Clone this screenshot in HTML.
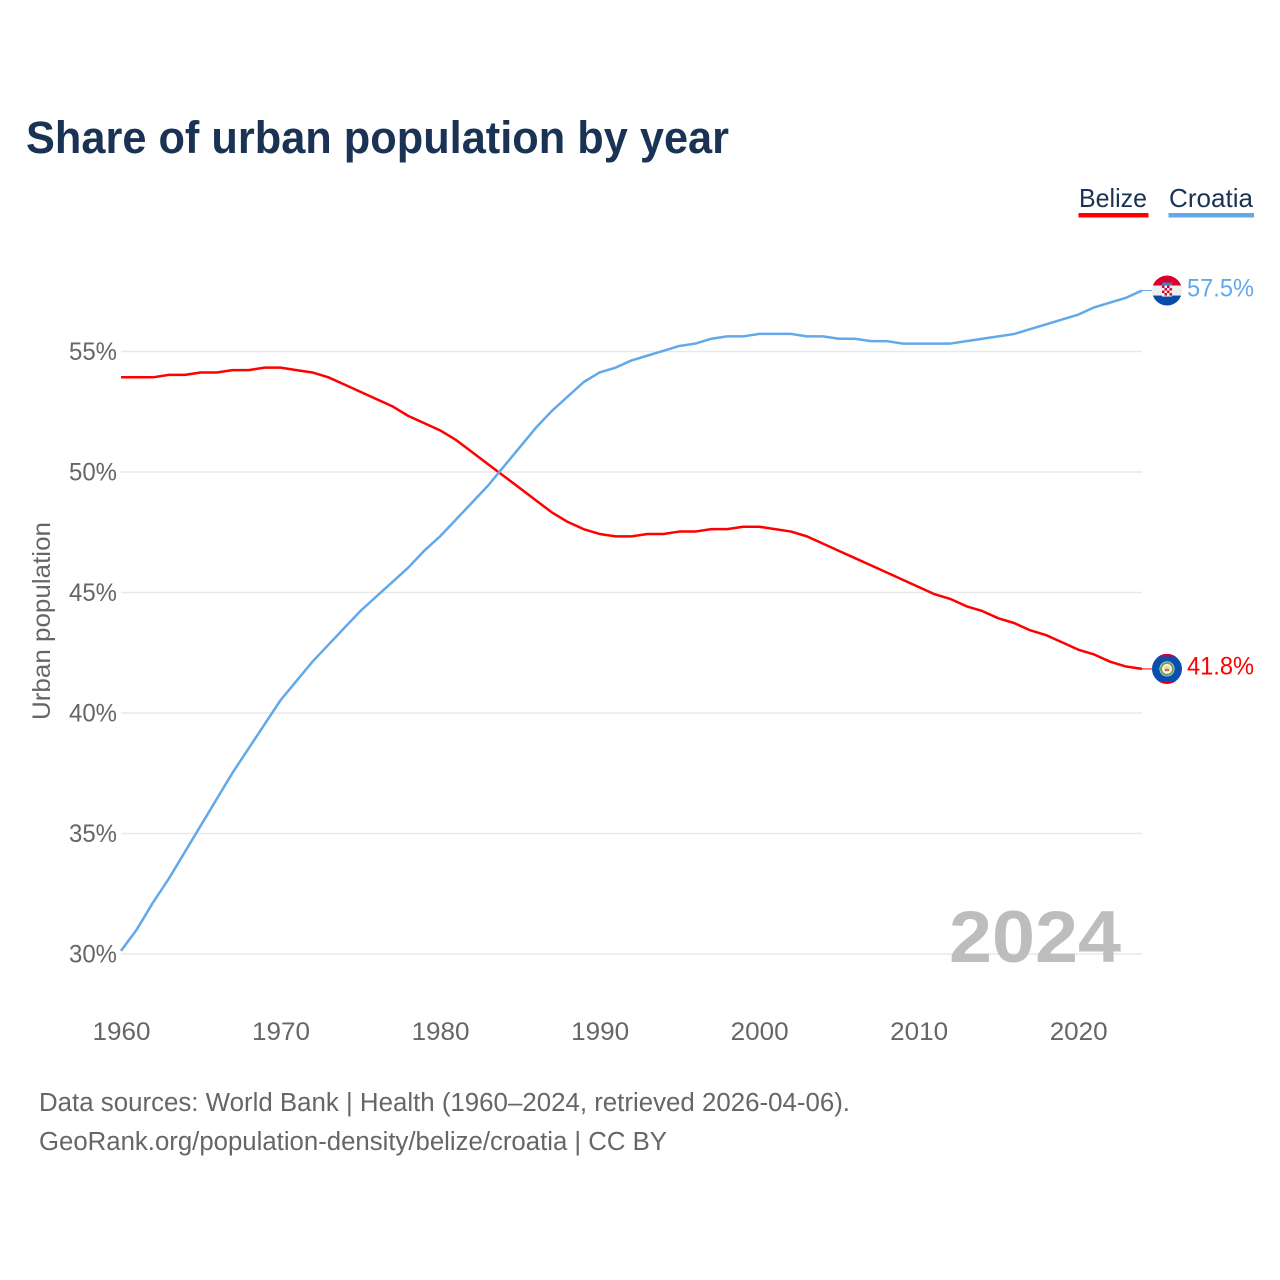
<!DOCTYPE html>
<html lang="en">
<head>
<meta charset="utf-8">
<title>Share of urban population by year</title>
<style>
html,body{margin:0;padding:0;background:#fff;}
svg{display:block;font-family:"Liberation Sans",sans-serif;}
</style>
</head>
<body>
<svg id="chart" xmlns="http://www.w3.org/2000/svg" width="1280" height="1280" viewBox="0 0 1280 1280">
  <rect x="0" y="0" width="1280" height="1280" fill="#ffffff"/>
  <text x="26" y="153" font-size="45" font-weight="700" fill="#1a3354" textLength="703" lengthAdjust="spacingAndGlyphs">Share of urban population by year</text>

  <g>
    <g>
      <text x="1079" y="207" font-size="26" fill="#1a3354" textLength="68" lengthAdjust="spacingAndGlyphs">Belize</text>
      <rect x="1078.5" y="213" width="70" height="4.5" fill="#ff0000"/>
    </g>
    <g>
      <text x="1169" y="207" font-size="26" fill="#1a3354" textLength="84" lengthAdjust="spacingAndGlyphs">Croatia</text>
      <rect x="1168.5" y="213" width="85.5" height="4.5" fill="#62a8ea"/>
    </g>
  </g>

  <g id="grid"></g>
  <g id="yticks"></g>
  <g id="xticks"></g>

  <text transform="translate(50,720) rotate(-90)" x="0" y="0" font-size="25" fill="#666666" textLength="198" lengthAdjust="spacingAndGlyphs">Urban population</text>

  <path id="line-belize" fill="none" stroke="#ff0000" stroke-width="2.5" stroke-linejoin="round" transform="translate(0,-0.7)"/>
  <path id="line-croatia" fill="none" stroke="#62a8ea" stroke-width="2.5" stroke-linejoin="round" transform="translate(0,-0.7)"/>
  <line id="connector-belize" stroke="#ff0000" stroke-width="1"/>
  <line id="connector-croatia" stroke="#62a8ea" stroke-width="1"/>

  <defs>
    <clipPath id="flag-clip"><circle cx="0" cy="0" r="15"/></clipPath>
  </defs>

  <g id="flag-croatia">
    <g clip-path="url(#flag-clip)">
      <rect x="-15" y="-15" width="30" height="10" fill="#d8002a"/>
      <rect x="-15" y="-5" width="30" height="10" fill="#eeeeee"/>
      <rect x="-15" y="5" width="30" height="10" fill="#0a4aa8"/>
      <rect x="-5" y="-8" width="10" height="3" fill="#3f7fcf"/>
      <rect x="-5" y="-5" width="10" height="11" fill="#f4f4f4"/>
      <rect x="-5" y="-5" width="2.5" height="2.5" fill="#d8002a"/>
      <rect x="0" y="-5" width="2.5" height="2.5" fill="#d8002a"/>
      <rect x="-2.5" y="-2.5" width="2.5" height="2.5" fill="#d8002a"/>
      <rect x="2.5" y="-2.5" width="2.5" height="2.5" fill="#d8002a"/>
      <rect x="-5" y="0" width="2.5" height="2.5" fill="#d8002a"/>
      <rect x="0" y="0" width="2.5" height="2.5" fill="#d8002a"/>
      <rect x="-2.5" y="2.5" width="2.5" height="2.5" fill="#d8002a"/>
      <rect x="2.5" y="2.5" width="2.5" height="2.5" fill="#d8002a"/>
    </g>
  </g>
  <g id="flag-belize">
    <g clip-path="url(#flag-clip)">
      <rect x="-15" y="-15" width="30" height="30" fill="#0a4eb0"/>
      <rect x="-15" y="-15" width="30" height="2.5" fill="#d8002a"/>
      <rect x="-15" y="12.5" width="30" height="2.5" fill="#d8002a"/>
      <circle cx="0" cy="0" r="7.5" fill="#f2f2f2"/>
      <circle cx="0" cy="0" r="6" fill="none" stroke="#6da34d" stroke-width="2"/>
      <circle cx="0" cy="0" r="3" fill="#e8d9a0"/>
      <rect x="-2" y="0" width="4" height="2" fill="#d8604a"/>
    </g>
  </g>

  <text id="value-croatia" x="1187" font-size="25" fill="#62a8ea" textLength="67" lengthAdjust="spacingAndGlyphs"></text>
  <text id="value-belize" x="1187" font-size="25" fill="#ff0000" textLength="67" lengthAdjust="spacingAndGlyphs"></text>

  <text x="949" y="962" font-size="73" font-weight="700" fill="#bdbdbd" textLength="172" lengthAdjust="spacingAndGlyphs">2024</text>

  <text x="39" y="1111" font-size="25.5" fill="#666666" textLength="811" lengthAdjust="spacingAndGlyphs">Data sources: World Bank | Health (1960–2024, retrieved 2026-04-06).</text>
  <text x="39" y="1150" font-size="25.5" fill="#666666" textLength="628" lengthAdjust="spacingAndGlyphs">GeoRank.org/population-density/belize/croatia | CC BY</text>
</svg>
<script>
var years = [1960,1961,1962,1963,1964,1965,1966,1967,1968,1969,1970,1971,1972,1973,1974,1975,1976,1977,1978,1979,1980,1981,1982,1983,1984,1985,1986,1987,1988,1989,1990,1991,1992,1993,1994,1995,1996,1997,1998,1999,2000,2001,2002,2003,2004,2005,2006,2007,2008,2009,2010,2011,2012,2013,2014,2015,2016,2017,2018,2019,2020,2021,2022,2023,2024];
var belize = [53.9,53.9,53.9,54.0,54.0,54.1,54.1,54.2,54.2,54.3,54.3,54.2,54.1,53.9,53.6,53.3,53.0,52.7,52.3,52.0,51.7,51.3,50.8,50.3,49.8,49.3,48.8,48.3,47.9,47.6,47.4,47.3,47.3,47.4,47.4,47.5,47.5,47.6,47.6,47.7,47.7,47.6,47.5,47.3,47.0,46.7,46.4,46.1,45.8,45.5,45.2,44.9,44.7,44.4,44.2,43.9,43.7,43.4,43.2,42.9,42.6,42.4,42.1,41.9,41.8];
var croatia = [30.1,31.0,32.1,33.1,34.2,35.3,36.4,37.5,38.5,39.5,40.5,41.3,42.1,42.8,43.5,44.2,44.8,45.4,46.0,46.7,47.3,48.0,48.7,49.4,50.2,51.0,51.8,52.5,53.1,53.7,54.1,54.3,54.6,54.8,55.0,55.2,55.3,55.5,55.6,55.6,55.7,55.7,55.7,55.6,55.6,55.5,55.5,55.4,55.4,55.3,55.3,55.3,55.3,55.4,55.5,55.6,55.7,55.9,56.1,56.3,56.5,56.8,57.0,57.2,57.5];
var yTickValues = [30,35,40,45,50,55];
var xTickValues = [1960,1970,1980,1990,2000,2010,2020];

var NS = 'http://www.w3.org/2000/svg';
function xScale(year){ return 121 + (year - 1960) * (1021 / 64); }
function yScale(v){ return 954 - (v - 30) * (602.5 / 25); }
function linePath(series){
  return series.map(function(v,i){
    return (i ? 'L' : 'M') + xScale(years[i]).toFixed(2) + ' ' + yScale(v).toFixed(2);
  }).join(' ');
}

var gridGroup = document.getElementById('grid');
var yGroup = document.getElementById('yticks');
var xGroup = document.getElementById('xticks');

yTickValues.forEach(function(v){
  var gl = document.createElementNS(NS,'line');
  
  
  gl.setAttribute('x1', 121);
  gl.setAttribute('x2', 1142);
  gl.setAttribute('y1', yScale(v));
  gl.setAttribute('y2', yScale(v));
  gl.setAttribute('stroke', '#e9e9e9');
  gl.setAttribute('stroke-width', '1.5');
  gridGroup.appendChild(gl);

  var t = document.createElementNS(NS,'text');
  
  
  t.setAttribute('x', 69);
  t.setAttribute('y', yScale(v) + 8.5);
  t.setAttribute('font-size', '25');
  t.setAttribute('fill', '#666666');
  t.setAttribute('textLength', '48');
  t.setAttribute('lengthAdjust', 'spacingAndGlyphs');
  t.textContent = v + '%';
  yGroup.appendChild(t);
});

xTickValues.forEach(function(y){
  var t = document.createElementNS(NS,'text');
  
  
  t.setAttribute('x', xScale(y) - 28.5);
  t.setAttribute('y', 1040);
  t.setAttribute('font-size', '25');
  t.setAttribute('fill', '#666666');
  t.setAttribute('textLength', '58');
  t.setAttribute('lengthAdjust', 'spacingAndGlyphs');
  t.textContent = y;
  xGroup.appendChild(t);
});

document.getElementById('line-belize').setAttribute('d', linePath(belize));
document.getElementById('line-croatia').setAttribute('d', linePath(croatia));

function placeEnd(name, series){
  var last = series[series.length - 1];
  var ey = yScale(last);
  var ex = xScale(years[years.length - 1]);
  var c = document.getElementById('connector-' + name);
  c.setAttribute('x1', ex);
  c.setAttribute('x2', 1155);
  c.setAttribute('y1', ey - 0.7);
  c.setAttribute('y2', ey - 0.7);
  document.getElementById('flag-' + name).setAttribute('transform', 'translate(1167,' + (ey - 0.7) + ')');
  var label = document.getElementById('value-' + name);
  label.setAttribute('y', ey + 5);
  label.textContent = last.toFixed(1) + '%';
}
placeEnd('belize', belize);
placeEnd('croatia', croatia);
</script>
</body>
</html>
